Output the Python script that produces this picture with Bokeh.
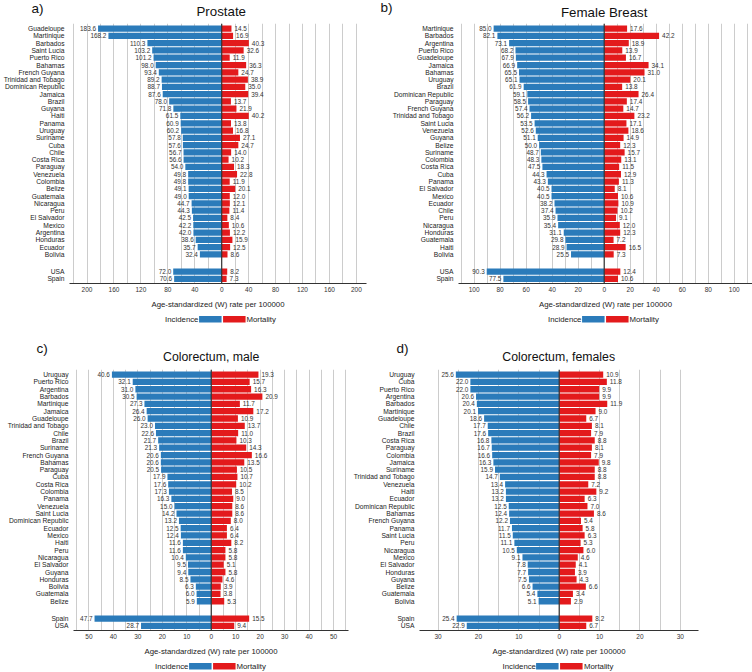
from bokeh.plotting import figure
from bokeh.models import (Range1d, FixedTicker, SingleIntervalTicker, CustomJSTickFormatter,
                          Span, Legend, LegendItem, ColumnDataSource)
from bokeh.layouts import row, column
from bokeh.embed import file_html
from bokeh.resources import INLINE
from bokeh.core.properties import value

FONT = "Liberation Sans"
BLUE = "#2b7bba"
RED = "#e31a1c"
AXIS_LABEL = "Age-standardized (W) rate per 100000"
NAN = float("nan")

# ---------------- a) Prostate ----------------
prostate_countries = ["Guadeloupe", "Martinique", "Barbados", "Saint Lucia", "Puerto Rico", "Bahamas",
                      "French Guyana", "Trinidad and Tobago", "Dominican Republic", "Jamaica", "Brazil",
                      "Guyana", "Haiti", "Panama", "Uruguay", "Suriname", "Cuba", "Chile", "Costa Rica",
                      "Paraguay", "Venezuela", "Colombia", "Belize", "Guatemala", "Nicaragua", "Peru",
                      "El Salvador", "Mexico", "Argentina", "Honduras", "Ecuador", "Bolivia"]
prostate_incidence = [183.6, 168.2, 110.3, 103.2, 101.2, 98.0, 93.4, 89.2, 88.7, 87.6, 78.0, 71.8, 61.5,
                      60.9, 60.2, 57.8, 57.6, 56.7, 56.6, 54.0, 49.8, 49.8, 49.1, 49.0, 44.7, 44.3, 42.5,
                      42.2, 42.0, 38.6, 35.7, 32.4]
prostate_mortality = [14.5, 16.9, 40.3, 32.6, 11.9, 36.3, 24.7, 38.9, 35.0, 39.4, 13.7, 21.9, 40.2,
                      13.8, 16.8, 27.1, 24.7, 14.0, 10.2, 18.3, 22.8, 11.9, 20.1, 12.0, 12.1, 11.4, 8.4,
                      10.6, 12.2, 15.9, 12.5, 8.6]
prostate_ref_countries = ["USA", "Spain"]
prostate_ref_incidence = [72.0, 70.6]
prostate_ref_mortality = [8.2, 7.3]

# ---------------- b) Female Breast ----------------
breast_countries = ["Martinique", "Barbados", "Argentina", "Puerto Rico", "Guadeloupe", "Jamaica", "Bahamas",
                    "Uruguay", "Brazil", "Dominican Republic", "Paraguay", "French Guyana",
                    "Trinidad and Tobago", "Saint Lucia", "Venezuela", "Guyana", "Belize", "Suriname",
                    "Colombia", "Costa Rica", "Cuba", "Panama", "El Salvador", "Mexico", "Ecuador", "Chile",
                    "Peru", "Nicaragua", "Honduras", "Guatemala", "Haiti", "Bolivia"]
breast_incidence = [85.0, 82.1, 73.1, 68.2, 67.9, 66.9, 65.5, 65.1, 61.9, 59.1, 58.5, 57.4, 56.2, 53.5,
                    52.6, 51.1, 50.0, 48.7, 48.3, 47.5, 44.3, 43.3, 40.5, 40.5, 38.2, 37.4, 35.9, 35.4,
                    31.1, 29.8, 28.9, 25.5]
breast_mortality = [17.6, 42.2, 18.9, 13.9, 16.7, 34.1, 31.0, 20.1, 13.8, 26.4, 17.4, 14.7, 23.2, 17.1,
                    18.6, 14.9, 12.3, 15.7, 13.1, 11.5, 12.9, 11.3, 8.1, 10.6, 10.9, 10.2, 9.1, 12.0,
                    12.3, 7.2, 16.5, 7.3]
breast_ref_countries = ["USA", "Spain"]
breast_ref_incidence = [90.3, 77.5]
breast_ref_mortality = [12.4, 10.6]

# ---------------- c) Colorectum, male ----------------
crc_m_countries = ["Uruguay", "Puerto Rico", "Argentina", "Barbados", "Martinique", "Jamaica", "Guadeloupe",
                   "Trinidad and Tobago", "Chile", "Brazil", "Suriname", "French Guyana", "Bahamas",
                   "Paraguay", "Cuba", "Costa Rica", "Colombia", "Panama", "Venezuela", "Saint Lucia",
                   "Dominican Republic", "Ecuador", "Mexico", "Haiti", "Peru", "Nicaragua", "El Salvador",
                   "Guyana", "Honduras", "Bolivia", "Guatemala", "Belize"]
crc_m_incidence = [40.6, 32.1, 31.0, 30.5, 27.3, 26.4, 26.0, 23.0, 22.6, 21.7, 21.3, 20.6, 20.6, 20.5,
                   17.9, 17.6, 17.3, 16.3, 15.0, 14.2, 13.2, 12.5, 12.4, 11.6, 11.6, 10.4, 9.5, 9.4, 8.5,
                   6.3, 6.0, 5.9]
crc_m_mortality = [19.3, 15.7, 16.3, 20.9, 11.7, 17.2, 10.9, 13.7, 11.0, 10.3, 14.3, 16.6, 13.5, 10.5,
                   10.7, 10.2, 8.5, 9.0, 8.6, 8.6, 8.0, 6.4, 6.4, 8.2, 5.8, 5.8, 5.1, 5.8, 4.6, 3.9, 3.8,
                   5.3]
crc_m_ref_countries = ["Spain", "USA"]
crc_m_ref_incidence = [47.7, 28.7]
crc_m_ref_mortality = [15.5, 9.4]

# ---------------- d) Colorectum, females ----------------
crc_f_countries = ["Uruguay", "Cuba", "Puerto Rico", "Argentina", "Barbados", "Martinique", "Guadeloupe",
                   "Chile", "Brazil", "Costa Rica", "Paraguay", "Colombia", "Jamaica", "Suriname",
                   "Trinidad and Tobago", "Venezuela", "Haiti", "Ecuador", "Dominican Republic", "Bahamas",
                   "French Guyana", "Panama", "Saint Lucia", "Peru", "Nicaragua", "Mexico", "El Salvador",
                   "Honduras", "Guyana", "Belize", "Guatemala", "Bolivia"]
crc_f_incidence = [25.6, 22.0, 22.0, 20.6, 20.4, 20.1, 18.6, 17.7, 17.6, 16.8, 16.7, 16.6, 16.3, 15.9,
                   14.7, 13.4, 13.2, 13.2, 12.5, 12.4, 12.2, 11.7, 11.5, 11.1, 10.5, 9.1, 7.8, 7.7, 7.5,
                   6.6, 5.4, 5.1]
crc_f_mortality = [10.9, 11.8, 9.9, 9.9, 11.9, 9.0, 6.7, 8.1, 7.9, 8.8, 8.1, 7.9, 9.8, 8.8, 8.8, 7.2,
                   9.2, 6.3, 7.0, 8.6, 5.4, 5.8, 6.3, 5.3, 6.0, 4.6, 4.1, 3.9, 4.3, 6.6, 3.4, 2.9]
crc_f_ref_countries = ["Spain", "USA"]
crc_f_ref_incidence = [25.4, 22.9]
crc_f_ref_mortality = [8.2, 6.7]


def bare(width, height, x_range, y_range, left=0, right=0):
    f = figure(width=width, height=height, x_range=x_range, y_range=y_range, title=None,
               output_backend="svg", toolbar_location=None, x_axis_location=None, y_axis_location=None,
               min_border_left=left, min_border_right=right, min_border_top=0, min_border_bottom=0)
    f.outline_line_color = None
    f.grid.grid_line_color = None
    return f


def make_main(countries, inc, mort, ref_countries, ref_inc, ref_mort,
              x_start, x_end, grid_step, tick_step, width, height, left, right):
    names = countries + ref_countries
    incv = inc + ref_inc
    mortv = mort + ref_mort
    n = len(countries)
    ys = [float(i) for i in range(n)] + [n + 1.375 + k for k in range(len(ref_countries))]
    src = ColumnDataSource(dict(
        y=ys, name=names, ninc=[-v for v in incv], mort=mortv,
        inc_lab=[f"{v:.1f}" for v in incv], mort_lab=[f"{v:.1f}" for v in mortv]))

    p = figure(width=width, height=height, x_range=Range1d(x_start, x_end),
               y_range=Range1d(35.0, -0.7), output_backend="svg", toolbar_location=None, title=None,
               min_border_left=left, min_border_right=right, min_border_top=0, min_border_bottom=30)
    p.outline_line_color = None
    p.ygrid.grid_line_color = None
    p.xgrid.ticker = SingleIntervalTicker(interval=grid_step, num_minor_ticks=0)
    p.xgrid.grid_line_color = "#cccccc"
    p.xgrid.grid_line_width = 1

    p.hbar(y="y", left="ninc", right=0, height=0.86, source=src, fill_color=BLUE, line_color=None)
    p.hbar(y="y", left=0, right="mort", height=0.86, source=src, fill_color=RED, line_color=None)
    p.add_layout(Span(location=0, dimension="height", line_color="#333333", line_width=1.2))

    p.text(x="ninc", y="y", text="inc_lab", source=src, text_align="right", text_baseline="middle",
           x_offset=-2, text_font_size="6.4px", text_font=value(FONT), text_color="#333333")
    p.text(x="mort", y="y", text="mort_lab", source=src, text_align="left", text_baseline="middle",
           x_offset=3, text_font_size="6.4px", text_font=value(FONT), text_color="#333333")

    yax = p.yaxis[0]
    yax.ticker = FixedTicker(ticks=ys)
    yax.major_label_overrides = {y: nm for y, nm in zip(ys, names)}
    yax.axis_line_color = None
    yax.major_tick_line_color = None
    yax.minor_tick_line_color = None
    yax.major_tick_out = 0
    yax.major_tick_in = 0
    yax.major_label_standoff = 5
    yax.major_label_text_font = FONT
    yax.major_label_text_font_size = "6.7px"
    yax.major_label_text_color = "#222222"

    xax = p.xaxis[0]
    xax.ticker = SingleIntervalTicker(interval=tick_step, num_minor_ticks=0)
    xax.formatter = CustomJSTickFormatter(code="return Math.abs(tick).toString()")
    xax.axis_label = AXIS_LABEL
    xax.axis_label_text_font = FONT
    xax.axis_label_text_font_style = "normal"
    xax.axis_label_text_font_size = "7.8px"
    xax.axis_label_text_color = "#222222"
    xax.axis_label_standoff = 5
    xax.major_label_text_font = FONT
    xax.major_label_text_font_size = "6.5px"
    xax.major_label_text_color = "#333333"
    xax.major_label_standoff = 3
    xax.axis_line_color = "#333333"
    xax.major_tick_out = 0
    xax.major_tick_in = 0
    xax.major_tick_line_color = None
    xax.minor_tick_line_color = None
    return p


def zero_px(width, left, right, x_start, x_end):
    fw = width - left - right
    return left + fw * (0 - x_start) / (x_end - x_start)


def make_header(width, height, letter, letter_x, letter_y, title, title_x, title_y, title_size):
    h = bare(width, height, Range1d(0, width), Range1d(height, 0))
    h.text(x=[letter_x], y=[letter_y], text=[letter], text_font=value(FONT), text_font_size="13.5px",
           text_align="left", text_baseline="middle", text_color="#111111")
    h.text(x=[title_x], y=[title_y], text=[title], text_font=value(FONT), text_font_size=title_size,
           text_align="center", text_baseline="middle", text_color="#111111")
    return h


def make_footer(width, height, zx):
    hw = min(zx, width - zx) - 4
    f = bare(width, height, Range1d(0, 1), Range1d(0, 1), left=int(round(zx - hw)),
             right=int(round(width - zx - hw)))
    r_blank = f.line(x=[NAN], y=[NAN], line_alpha=0)
    r_blue = f.line(x=[NAN], y=[NAN], line_color=BLUE, line_width=7)
    r_red = f.line(x=[NAN], y=[NAN], line_color=RED, line_width=7)
    legend = Legend(items=[LegendItem(label="Incidence", renderers=[r_blank]),
                           LegendItem(label="", renderers=[r_blue]),
                           LegendItem(label="Mortality", renderers=[r_red]),
                           LegendItem(label="", renderers=[r_blank])],
                    orientation="horizontal", location="center",
                    glyph_width=23, glyph_height=7, label_width=0, label_height=7,
                    label_standoff=1, spacing=0, padding=0, margin=0,
                    label_text_font=FONT, label_text_font_size="7.8px", label_text_color="#222222",
                    border_line_color=None, background_fill_alpha=0)
    f.add_layout(legend)
    return f


# panel geometry (px): figure width, left border, right border, x range
A = dict(width=372, left=68, right=6, xs=-226, xe=215)
B = dict(width=380, left=86, right=0, xs=-112, xe=114)
C = dict(width=350, left=73, right=2, xs=-56.3, xe=56.1)
D = dict(width=402, left=68, right=54, xs=-34.6, xe=34.5)

pa = make_main(prostate_countries, prostate_incidence, prostate_mortality,
               prostate_ref_countries, prostate_ref_incidence, prostate_ref_mortality,
               A["xs"], A["xe"], 20, 40, A["width"], 290, A["left"], A["right"])
pb = make_main(breast_countries, breast_incidence, breast_mortality,
               breast_ref_countries, breast_ref_incidence, breast_ref_mortality,
               B["xs"], B["xe"], 10, 20, B["width"], 290, B["left"], B["right"])
pc = make_main(crc_m_countries, crc_m_incidence, crc_m_mortality,
               crc_m_ref_countries, crc_m_ref_incidence, crc_m_ref_mortality,
               C["xs"], C["xe"], 5, 10, C["width"], 291, C["left"], C["right"])
pd_ = make_main(crc_f_countries, crc_f_incidence, crc_f_mortality,
                crc_f_ref_countries, crc_f_ref_incidence, crc_f_ref_mortality,
                D["xs"], D["xe"], 5, 10, D["width"], 291, D["left"], D["right"])

zA = zero_px(A["width"], A["left"], A["right"], A["xs"], A["xe"])
zB = zero_px(B["width"], B["left"], B["right"], B["xs"], B["xe"])
zC = zero_px(C["width"], C["left"], C["right"], C["xs"], C["xe"])
zD = zero_px(D["width"], D["left"], D["right"], D["xs"], D["xe"])

ha = make_header(A["width"], 23, "a)", 31, 8, "Prostate", zA, 11, "13.3px")
hb = make_header(B["width"], 23, "b)", 8, 7, "Female Breast", zB, 12, "13.3px")
hc = make_header(C["width"], 44, "c)", 36, 23, "Colorectum, male", zC, 31, "12.3px")
hd = make_header(D["width"], 44, "d)", 46, 23, "Colorectum, females", zD, 31, "12.3px")

fa = make_footer(A["width"], 12, zA)
fb = make_footer(B["width"], 12, zB)
fc = make_footer(C["width"], 12, zC)
fd = make_footer(D["width"], 12, zD)

layout = column(row(ha, hb), row(pa, pb), row(fa, fb),
                row(hc, hd), row(pc, pd_), row(fc, fd))
open("out.html", "w").write(file_html(layout, INLINE))
